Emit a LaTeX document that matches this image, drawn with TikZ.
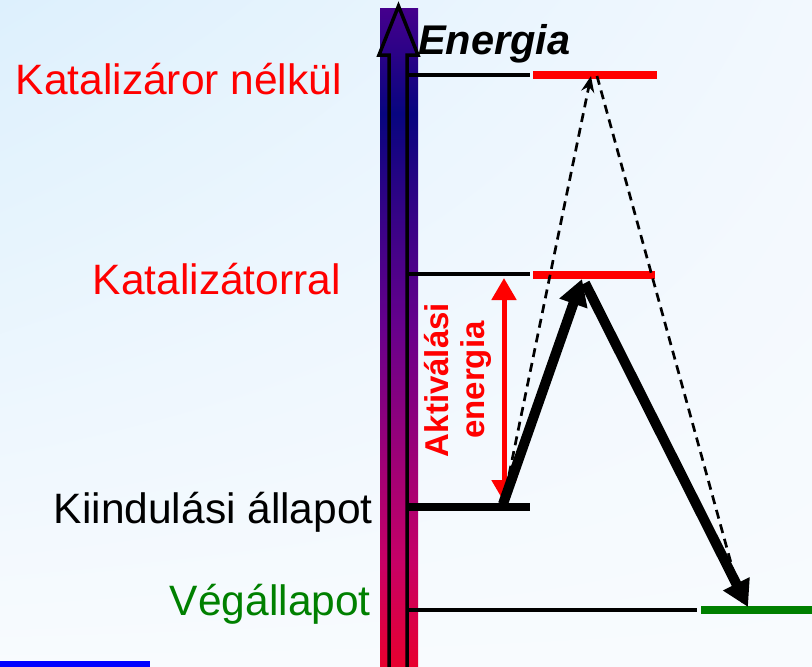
\documentclass[tikz,border=0pt]{standalone}
\usepackage{fontspec}
\setmainfont{Liberation Sans}
\usepackage{tikz}
\usetikzlibrary{arrows.meta, positioning, calc, shadings}
\usepackage{xcolor}

\definecolor{hred}{RGB}{255,0,0}
\definecolor{hgreen}{RGB}{0,128,0}
\definecolor{hblue}{RGB}{0,0,255}
\definecolor{bgtl}{RGB}{221,240,253}
\definecolor{bgrest}{RGB}{248,251,254}
\definecolor{bgtr}{RGB}{242,248,254}

% energy bar colours, bottom (red) to top (violet)
\pgfdeclareverticalshading{energybar}{100bp}{%
  rgb(0bp)=(0.91,0,0.18); rgb(25bp)=(0.91,0,0.18);
  rgb(33bp)=(0.78,0,0.40); rgb(51bp)=(0.40,0,0.55);
  rgb(67bp)=(0.03,0.02,0.50); rgb(75bp)=(0.27,0,0.55);
  rgb(100bp)=(0.27,0,0.55)}

\begin{document}
\begin{tikzpicture}[
        x=1pt, y=-1pt,
        >=Stealth,
        levellabel/.style={anchor=base east, inner sep=0pt, font=\fontsize{42.5}{48}\selectfont},
        axisline/.style={draw=black, line width=4.5pt},
        startline/.style={draw=black, line width=8.5pt},
        colourline/.style={line width=7.5pt},
        reactpath/.style={draw=black, line width=10pt, -{Triangle[length=26pt, width=28pt]}},
        dashpath/.style={draw=black, line width=2.7pt, dash pattern=on 9pt off 6pt, -{Stealth[length=16pt, width=13pt]}}
    ]
        \useasboundingbox (0,0) rectangle (812,667);

        % ================= BACKGROUND =================
        \shade[upper left=bgtl, upper right=bgtr, lower left=bgrest, lower right=bgrest] (0,0) rectangle (812,667);
        \fill[hblue] (0,661) rectangle (150,667);

        % ================= ENERGY AXIS =================
        \shade[shading=energybar] (380,8) rectangle (418,667);
        \draw[black, line width=3.5pt, line join=miter] (389,668) -- (389,55) -- (379,55) -- (398.5,6) -- (418,55) -- (407,55) -- (407,668);
        \node[anchor=base west, inner sep=0pt, font=\bfseries\itshape\fontsize{41.5}{46}\selectfont] (energy) at (418,54) {Energia};

        % ================= LEVELS =================
        \coordinate (axisNo) at (407,75);
        \coordinate (axisCat) at (407,274);
        \coordinate (axisStart) at (407,507);
        \coordinate (axisEnd) at (407,610);

        \coordinate (noCatL) at (533,75);
        \coordinate (noCatR) at (657,75);
        \coordinate (catL) at (533,275);
        \coordinate (catR) at (655,275);
        \coordinate (startR) at (530,507);
        \coordinate (endL) at (701,610);
        \coordinate (endR) at (812,610);

        \path[axisline] (axisNo) -- (530,75);
        \path[axisline] (axisCat) -- (530,274);
        \path[startline] (axisStart) -- (startR);
        \path[axisline] (axisEnd) -- (697,610);

        \draw[colourline, hred] (noCatL) -- (noCatR);
        \draw[colourline, hred] (catL) -- (catR);
        \draw[colourline, hgreen] (endL) -- (endR);

        % ================= LABELS =================
        \node[levellabel, text=hred] (noCatLabel) at (342,94) {Katalizáror nélkül};
        \node[levellabel, text=hred] (catLabel) at (341,294) {Katalizátorral};
        \node[levellabel, text=black] (startLabel) at (373,523) {Kiindulási állapot};
        \node[levellabel, text=hgreen] (endLabel) at (371,615) {Végállapot};

        % ================= ACTIVATION ENERGY =================
        \coordinate (actTop) at (504,278);
        \coordinate (actBot) at (504,502);
        \draw[hred, line width=5pt, {Triangle[length=22pt, width=24pt]}-{Triangle[length=22pt, width=24pt]}] (actTop) -- (actBot);
        \node[rotate=90, text=hred, align=center, inner sep=0pt, font=\bfseries\fontsize{33}{36}\selectfont] (actLabel) at (458,380) {Aktiválási\\energia};

        % ================= REACTION PATHS =================
        \coordinate (start) at (503,504);
        \coordinate (peak) at (582,279);
        \coordinate (peakNo) at (591,76);
        \coordinate (final) at (748,607);

        \draw[dashpath] (start) -- (peakNo);
        \draw[dashpath] ([xshift=6pt]peakNo) -- (742,603);

        \draw[reactpath] (start) -- (peak);
        \draw[reactpath] (585,283) -- (final);

    \end{tikzpicture}
\end{document}
